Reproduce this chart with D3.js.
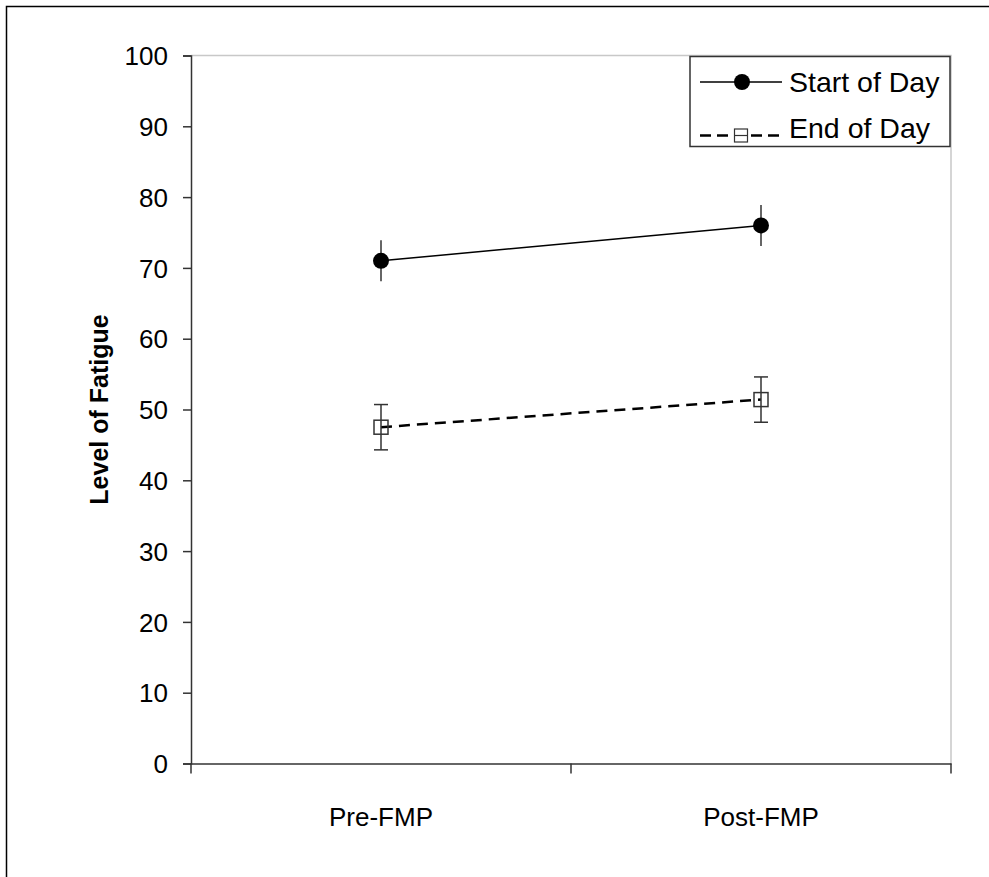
<!DOCTYPE html>
<html><head><meta charset="utf-8">
<script src="https://cdn.jsdelivr.net/npm/d3@7"></script>
<style>body{margin:0;background:#fff}svg{display:block}</style>
</head><body>
<script>
const categories = ["Pre-FMP", "Post-FMP"];
const startOfDay = [71.0, 76.0];
const startErr = [2.9, 2.9];
const endOfDay = [47.5, 51.4];
const endErr = [3.2, 3.2];
const yTicks = [0,10,20,30,40,50,60,70,80,90,100];
const seriesNames = ["Start of Day", "End of Day"];

const W = 989, H = 877;
const svg = d3.select("body").append("svg").attr("width", W).attr("height", H);
const font = "Arial, 'Liberation Sans', sans-serif";

// outer frame
svg.append("rect").attr("x", 6.5).attr("y", 6.5).attr("width", 1000).attr("height", 900)
  .attr("fill", "none").attr("stroke", "#000").attr("stroke-width", 1.5);

const x0 = 191, x1 = 951, yTop = 55.5, yBot = 763.5;
const y = d3.scaleLinear().domain([0, 100]).range([yBot, yTop]);
const x = d3.scaleBand().domain(categories).range([x0, x1]);
const xc = d => x(d) + x.bandwidth() / 2;

// plot area border (light)
svg.append("path").attr("d", `M${x0},${yTop}H${x1}V${yBot}`)
  .attr("fill", "none").attr("stroke", "#c8c8c8").attr("stroke-width", 1.5);

// y axis
const yAxis = svg.append("g").attr("transform", `translate(${x0},0)`)
  .call(d3.axisLeft(y).tickValues(yTicks).tickSize(8).tickPadding(15));
yAxis.attr("font-size", null).attr("font-family", null);
yAxis.select(".domain").attr("stroke", "#333").attr("stroke-width", 1.5);
yAxis.selectAll(".tick line").attr("stroke", "#333").attr("stroke-width", 1.5);
yAxis.selectAll("text").attr("font-family", font).attr("font-size", 26).attr("fill", "#000").attr("dy", "0.35em");

// x axis
const xAxis = svg.append("g").attr("transform", `translate(0,${yBot})`)
  .call(d3.axisBottom(x).tickSize(0).tickPadding(0));
xAxis.attr("font-size", null).attr("font-family", null);
xAxis.select(".domain").attr("stroke", "#333").attr("stroke-width", 1.5);
xAxis.selectAll("text").attr("font-family", font).attr("font-size", 26).attr("fill", "#000")
  .attr("dy", 0).attr("y", 826 - yBot);

// category boundary ticks
const bounds = [x0, x0 + x.bandwidth(), x1];
svg.selectAll(".bt").data(bounds).enter().append("line")
  .attr("x1", d => d).attr("x2", d => d).attr("y1", yBot).attr("y2", yBot + 10)
  .attr("stroke", "#333").attr("stroke-width", 1.5);

// y title
svg.append("text").attr("transform", `translate(108,${(yTop + yBot) / 2}) rotate(-90)`)
  .attr("text-anchor", "middle").attr("font-family", font).attr("font-size", 25)
  .attr("font-weight", "bold").text("Level of Fatigue");

// lines
const line = d3.line().x((d, i) => xc(categories[i])).y(d => y(d));
svg.append("path").datum(startOfDay).attr("d", line).attr("fill", "none")
  .attr("stroke", "#000").attr("stroke-width", 1.5);
svg.append("path").datum(endOfDay).attr("d", line).attr("fill", "none")
  .attr("stroke", "#000").attr("stroke-width", 2.5).attr("stroke-dasharray", "11,7");

// error bars
function errBars(vals, errs, cap) {
  vals.forEach((v, i) => {
    const cx = xc(categories[i]);
    svg.append("line").attr("x1", cx).attr("x2", cx).attr("y1", y(v + errs[i])).attr("y2", y(v - errs[i]))
      .attr("stroke", "#333").attr("stroke-width", 1.5);
    if (cap) {
      [v + errs[i], v - errs[i]].forEach(e => svg.append("line").attr("x1", cx - 7).attr("x2", cx + 7)
        .attr("y1", y(e)).attr("y2", y(e)).attr("stroke", "#333").attr("stroke-width", 1.5));
    }
  });
}
errBars(startOfDay, startErr, false);
errBars(endOfDay, endErr, true);

// markers
svg.selectAll(".c").data(startOfDay).enter().append("circle")
  .attr("cx", (d, i) => xc(categories[i])).attr("cy", d => y(d)).attr("r", 8).attr("fill", "#000");
svg.selectAll(".s").data(endOfDay).enter().append("rect")
  .attr("x", (d, i) => xc(categories[i]) - 7).attr("y", d => y(d) - 7).attr("width", 14).attr("height", 14)
  .attr("fill", "none").attr("stroke", "#333").attr("stroke-width", 1.5);

// legend
const lg = svg.append("g");
lg.append("rect").attr("x", 690).attr("y", 56.5).attr("width", 260).attr("height", 90)
  .attr("fill", "#fff").attr("stroke", "#333").attr("stroke-width", 1.5);
// start of day
lg.append("line").attr("x1", 700).attr("x2", 782).attr("y1", 82).attr("y2", 82).attr("stroke", "#000").attr("stroke-width", 1.5);
lg.append("circle").attr("cx", 742).attr("cy", 82).attr("r", 8).attr("fill", "#000");
lg.append("text").attr("x", 789).attr("y", 92).attr("font-family", font).attr("font-size", 28.5).text(seriesNames[0]);
// end of day
lg.append("line").attr("x1", 700).attr("x2", 782).attr("y1", 135.5).attr("y2", 135.5).attr("stroke", "#000")
  .attr("stroke-width", 2.5).attr("stroke-dasharray", "11,6");
lg.append("rect").attr("x", 734.5).attr("y", 129).attr("width", 13).attr("height", 13).attr("fill", "#fff")
  .attr("stroke", "#333").attr("stroke-width", 1.2);
lg.append("line").attr("x1", 734.5).attr("x2", 747.5).attr("y1", 135.5).attr("y2", 135.5).attr("stroke", "#333").attr("stroke-width", 1.2);
lg.append("text").attr("x", 789).attr("y", 138).attr("font-family", font).attr("font-size", 28.5).text(seriesNames[1]);
</script>
</body></html>
